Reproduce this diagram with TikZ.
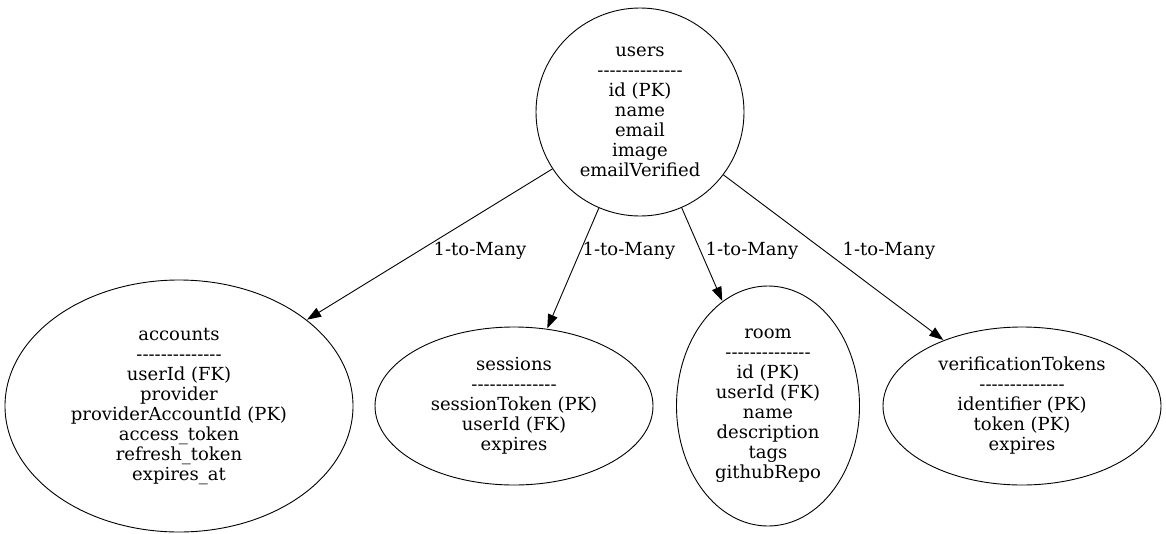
\documentclass[tikz,border=0pt]{standalone}
\usepackage{fontspec}
\setmainfont{DejaVu Serif}[Ligatures=TeXOff]
\usetikzlibrary{shapes.geometric,arrows.meta}
\newcommand{\sepline}{--------------}
\begin{document}
\begin{tikzpicture}[x=1pt,y=-1pt,font=\fontsize{18}{20}\selectfont,
  tbl/.style={draw,ellipse,align=center,inner sep=0pt,line width=0.9pt},
  rel/.style={-{Triangle[length=14pt,width=10pt]},line width=0.9pt,shorten >=0.5pt}]
\useasboundingbox(0,0)rectangle(1166,533);
\node[tbl,circle,minimum size=208](users)at(640,112){users\\\sepline\\id (PK)\\name\\email\\image\\emailVerified};
\node[tbl,minimum width=348,minimum height=252](accounts)at(179,406){accounts\\\sepline\\userId (FK)\\provider\\providerAccountId (PK)\\access\_token\\refresh\_token\\expires\_at};
\node[tbl,minimum width=278,minimum height=158](sessions)at(514,406){sessions\\\sepline\\sessionToken (PK)\\userId (FK)\\expires};
\node[tbl,minimum width=183,minimum height=240](room)at(768,406){room\\\sepline\\id (PK)\\userId (FK)\\name\\description\\tags\\githubRepo};
\node[tbl,minimum width=278,minimum height=158](tokens)at(1022,406){verificationTokens\\\sepline\\identifier (PK)\\token (PK)\\expires};
\draw[rel](users.213)--(accounts.34);
\draw[rel](users)--(sessions);
\draw[rel](users)--(room);
\draw[rel](users.-37)--(tokens.140);
\node(l1)at(480,251){1-to-Many};
\node(l2)at(629,251){1-to-Many};
\node(l3)at(752,251){1-to-Many};
\node(l4)at(889,251){1-to-Many};
\end{tikzpicture}
\end{document}
